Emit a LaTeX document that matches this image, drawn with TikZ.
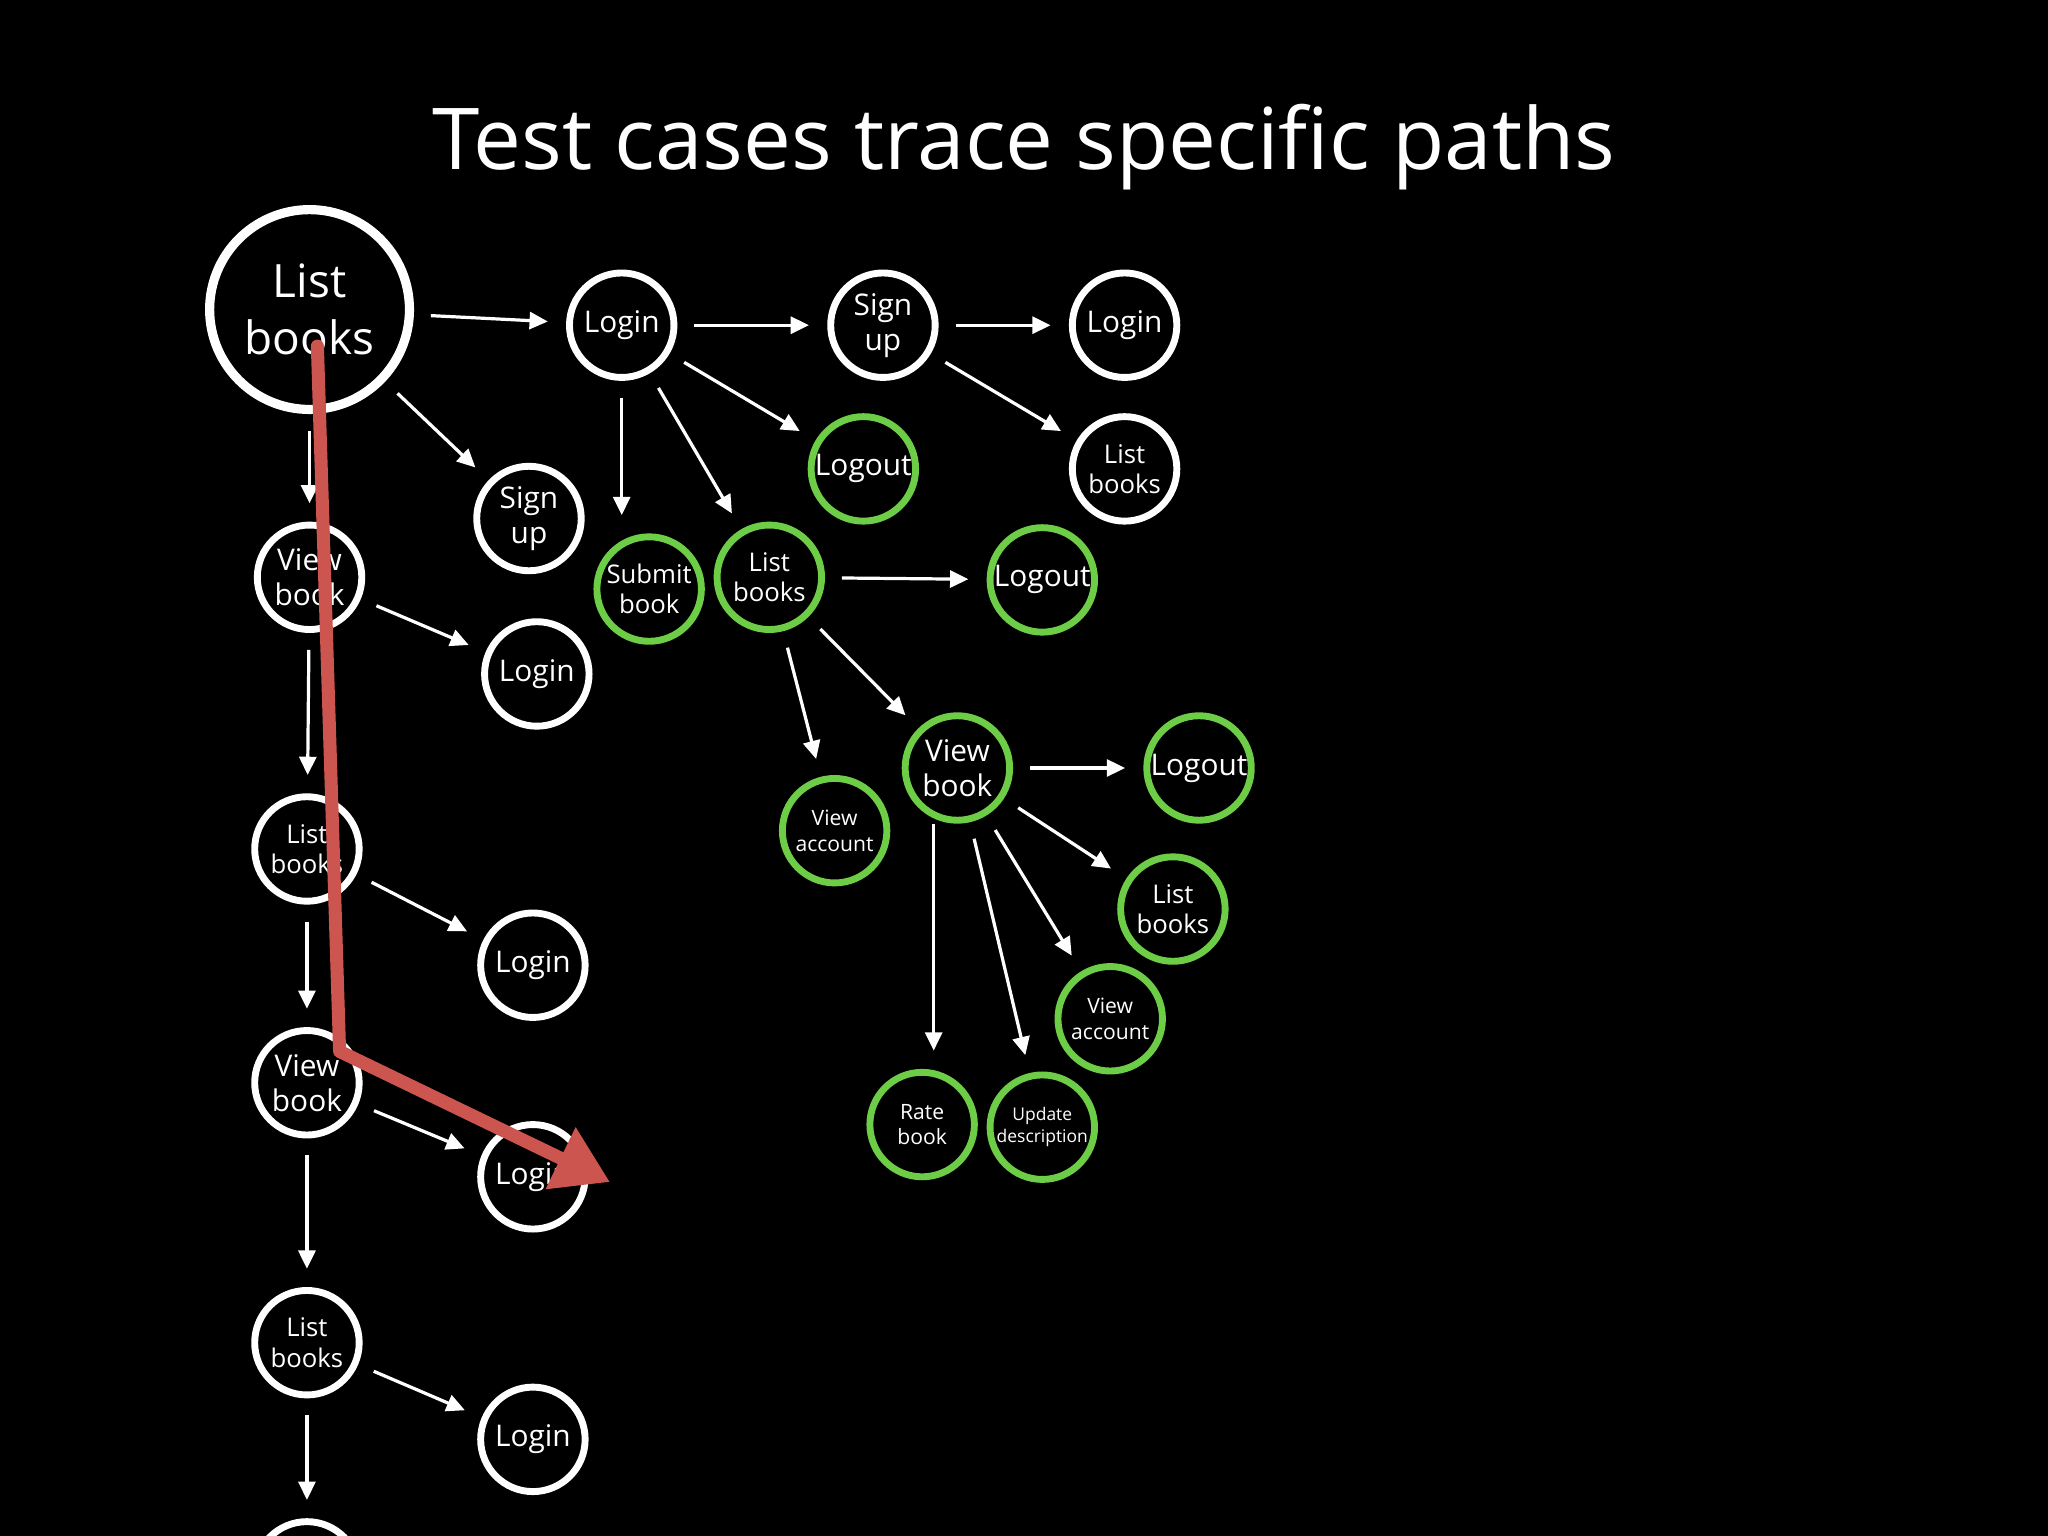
\documentclass[tikz,border=0pt]{standalone}
\usepackage{fontspec}
\setmainfont{Open Sans}
\usetikzlibrary{arrows.meta}
\definecolor{grn}{RGB}{110,205,70}
\definecolor{redp}{RGB}{205,85,80}
\begin{document}
\begin{tikzpicture}[
  wc/.style={circle,draw=white,line width=1.5pt,text=white,minimum size=0.8cm,inner sep=0pt,align=center,font=\fontsize{6.5}{7.6}\selectfont},
  gc/.style={wc,draw=grn},
  sm/.style={font=\fontsize{5.6}{6.6}\selectfont},
  xs/.style={font=\fontsize{4.6}{5.6}\selectfont},
  xxs/.style={font=\fontsize{3.8}{4.8}\selectfont},
  ar/.style={draw=white,line width=0.7pt,-{Triangle[length=0.14cm,width=0.13cm]},shorten <=0.13cm,shorten >=0.14cm}
]
\fill[black] (0,0) rectangle (15.68,-11.76);
\useasboundingbox (0,0) rectangle (15.68,-11.76);
\node[text=white,font=\fontsize{18.6}{22}\selectfont] (title) at (7.84,-1.13) {Test cases trace specific paths};
\node[wc,minimum size=1.53cm,line width=2pt,font=\fontsize{10}{12.5}\selectfont] (lb0) at (2.37,-2.37) {List\\books};
\node[wc] (login1) at (4.76,-2.49) {Login};
\node[wc] (signup1) at (6.76,-2.49) {Sign\\up};
\node[wc] (login2) at (8.61,-2.49) {Login};
\node[gc] (logout1) at (6.61,-3.59) {Logout};
\node[wc,sm] (lb2) at (8.61,-3.59) {List\\books};
\node[wc] (signup2) at (4.05,-3.97) {Sign\\up};
\node[gc,sm] (submit) at (4.97,-4.51) {Submit\\book};
\node[gc,sm] (lbg) at (5.89,-4.42) {List\\books};
\node[gc] (logout2) at (7.98,-4.44) {Logout};
\node[wc] (vb1) at (2.37,-4.42) {View\\book};
\node[wc] (login3) at (4.11,-5.16) {Login};
\node[gc,xs] (va1) at (6.39,-6.36) {View\\account};
\node[gc] (vbg) at (7.33,-5.88) {View\\book};
\node[gc] (logout3) at (9.18,-5.88) {Logout};
\node[gc,sm] (lb3) at (8.98,-6.96) {List\\books};
\node[gc,xs] (va2) at (8.50,-7.80) {View\\account};
\node[gc,xs] (rate) at (7.06,-8.61) {Rate\\book};
\node[gc,xxs] (upd) at (7.98,-8.63) {Update\\description};
\node[wc,sm] (lb4) at (2.35,-6.50) {List\\books};
\node[wc] (login4) at (4.08,-7.39) {Login};
\node[wc] (vb2) at (2.35,-8.29) {View\\book};
\node[wc] (login5) at (4.08,-9.01) {Login};
\node[wc,sm] (lb5) at (2.35,-10.28) {List\\books};
\node[wc] (login6) at (4.08,-11.02) {Login};
\node[wc] (bot) at (2.35,-12.05) {};
\draw[ar] (lb0) -- (login1);
\draw[ar] (lb0) -- (signup2);
\draw[ar] (lb0) -- (vb1);
\draw[ar] (login1) -- (signup1);
\draw[ar] (login1) -- (logout1);
\draw[ar] (login1) -- (login1 |- submit.north);
\draw[ar] (login1) -- (lbg);
\draw[ar] (signup1) -- (login2);
\draw[ar] (signup1) -- (lb2);
\draw[ar] (vb1) -- (login3);
\draw[ar] (vb1) -- (lb4);
\draw[ar] (lbg) -- (logout2);
\draw[ar] (lbg) -- (va1);
\draw[ar] (lbg) -- (vbg);
\draw[ar] (vbg) -- (logout3);
\draw[ar] (vbg) -- (lb3);
\draw[ar] (vbg) -- (va2);
\draw[ar] (vbg) -- (upd);
\draw[ar] (vbg.south west) ++(0.12,0) coordinate (rs) (rs) -- (rs |- rate.north);
\draw[ar] (lb4) -- (login4);
\draw[ar] (lb4) -- (vb2);
\draw[ar] (vb2) -- (login5);
\draw[ar] (vb2) -- (lb5);
\draw[ar] (lb5) -- (login6);
\draw[ar] (lb5) -- (bot);
\coordinate (r0) at (2.43,-2.65);
\coordinate (r1) at (2.60,-8.05);
\coordinate (r2) at (4.67,-9.05);
\draw[redp,line width=0.1cm,line cap=round,line join=round,-{Triangle[length=0.42cm,width=0.5cm]}] (r0) -- (r1) -- (r2);
\end{tikzpicture}
\end{document}
